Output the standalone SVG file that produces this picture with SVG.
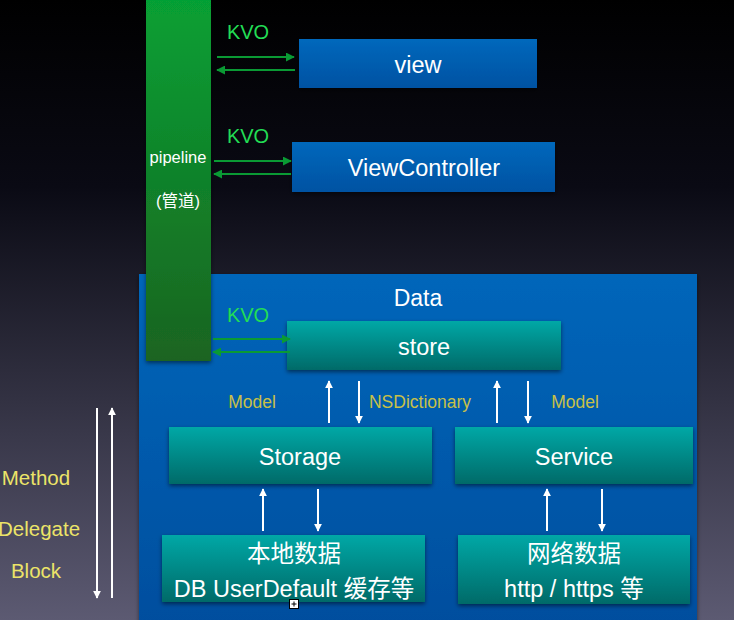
<svg xmlns="http://www.w3.org/2000/svg" width="734" height="620" viewBox="0 0 734 620">
<defs>
<linearGradient id="bg" x1="0" y1="0" x2="0" y2="1">
<stop offset="0" stop-color="#000000"/>
<stop offset="0.3" stop-color="#0a0a14"/>
<stop offset="1" stop-color="#5c5a72"/>
</linearGradient>
<linearGradient id="green" x1="0" y1="0" x2="0" y2="1">
<stop offset="0" stop-color="#06a034"/>
<stop offset="1" stop-color="#1b6420"/>
</linearGradient>
<linearGradient id="blue" x1="0" y1="0" x2="0" y2="1">
<stop offset="0" stop-color="#0068bc"/>
<stop offset="1" stop-color="#0052a2"/>
</linearGradient>
<linearGradient id="data" x1="0" y1="0" x2="0" y2="1">
<stop offset="0" stop-color="#0066ba"/>
<stop offset="1" stop-color="#004e9e"/>
</linearGradient>
<linearGradient id="teal" x1="0" y1="0" x2="0" y2="1">
<stop offset="0" stop-color="#00a8a6"/>
<stop offset="1" stop-color="#006a68"/>
</linearGradient>
<filter id="sh" x="-10%" y="-20%" width="120%" height="150%">
<feDropShadow dx="0" dy="2" stdDeviation="2" flood-color="#000" flood-opacity="0.5"/>
</filter>
<marker id="ag" viewBox="0 0 10 10" refX="9" refY="5" markerWidth="9" markerHeight="9" orient="auto" markerUnits="userSpaceOnUse">
<path d="M0,0 L10,5 L0,10 z" fill="#0a9a34"/>
</marker>
<marker id="aw" viewBox="0 0 10 10" refX="9" refY="5" markerWidth="8" markerHeight="8" orient="auto" markerUnits="userSpaceOnUse">
<path d="M0,0 L10,5 L0,10 z" fill="#ffffff"/>
</marker>
<style>
.t{font-family:"Liberation Sans",Arial,"Noto Sans CJK SC",sans-serif;fill:#ffffff;text-anchor:middle;}
.big{font-size:23.5px;}
.kvo{font-family:"Liberation Sans",Arial,sans-serif;font-size:20px;fill:#22dd55;text-anchor:middle;}
.lab{font-family:"Liberation Sans",Arial,sans-serif;font-size:17.5px;fill:#c8c048;text-anchor:middle;}
.side{font-family:"Liberation Sans",Arial,sans-serif;font-size:20.5px;fill:#ece468;text-anchor:middle;}
.g{stroke:#0a9a34;stroke-width:2;fill:none;}
.w{stroke:#ffffff;stroke-width:2;fill:none;}
</style>
</defs>
<rect x="0" y="0" width="734" height="620" fill="url(#bg)"/>

<g id="data-group">
<rect x="139" y="274" width="558" height="350" fill="url(#data)" filter="url(#sh)"/>
<text class="t" x="418" y="306" font-size="23">Data</text>
</g>

<g id="pipeline">
<rect x="146" y="-2" width="65" height="363" fill="url(#green)" filter="url(#sh)"/>
<text class="t" x="178" y="163" font-size="16.5">pipeline</text>
<text class="t" x="178" y="207" font-size="16.5">(管道)</text>
</g>

<g id="view">
<rect x="299" y="39" width="238" height="49" fill="url(#blue)" filter="url(#sh)"/>
<text class="t big" x="418" y="73">view</text>
</g>

<g id="viewcontroller">
<rect x="292" y="142" width="263" height="50" fill="url(#blue)" filter="url(#sh)"/>
<text class="t big" x="424" y="176">ViewController</text>
</g>

<g id="store">
<rect x="287" y="321" width="274" height="49" fill="url(#teal)" filter="url(#sh)"/>
<text class="t big" x="424" y="355">store</text>
</g>

<g id="storage">
<rect x="169" y="427" width="263" height="57" fill="url(#teal)" filter="url(#sh)"/>
<text class="t big" x="300" y="465">Storage</text>
</g>

<g id="service">
<rect x="455" y="427" width="238" height="57" fill="url(#teal)" filter="url(#sh)"/>
<text class="t big" x="574" y="465">Service</text>
</g>

<g id="local">
<rect x="162" y="535" width="263" height="67" fill="url(#teal)" filter="url(#sh)"/>
<text class="t big" x="294" y="562">本地数据</text>
<text class="t big" x="294" y="597">DB UserDefault 缓存等</text>
</g>

<g id="network">
<rect x="458" y="535" width="232" height="69" fill="url(#teal)" filter="url(#sh)"/>
<text class="t big" x="574" y="562">网络数据</text>
<text class="t big" x="574" y="597">http / https 等</text>
</g>

<g id="connectors">
<line class="g" x1="217" y1="57" x2="294" y2="57" marker-end="url(#ag)"/>
<line class="g" x1="295" y1="70" x2="217" y2="70" marker-end="url(#ag)"/>
<line class="g" x1="214" y1="161" x2="291" y2="161" marker-end="url(#ag)"/>
<line class="g" x1="291" y1="174" x2="214" y2="174" marker-end="url(#ag)"/>
<line class="g" x1="213" y1="339" x2="290" y2="339" marker-end="url(#ag)"/>
<line class="g" x1="290" y1="352" x2="213" y2="352" marker-end="url(#ag)"/>

<line class="w" x1="329" y1="423" x2="329" y2="381" marker-end="url(#aw)"/>
<line class="w" x1="359" y1="381" x2="359" y2="423" marker-end="url(#aw)"/>
<line class="w" x1="497" y1="423" x2="497" y2="381" marker-end="url(#aw)"/>
<line class="w" x1="528" y1="381" x2="528" y2="423" marker-end="url(#aw)"/>
<line class="w" x1="263" y1="531" x2="263" y2="489" marker-end="url(#aw)"/>
<line class="w" x1="318" y1="489" x2="318" y2="531" marker-end="url(#aw)"/>
<line class="w" x1="547" y1="531" x2="547" y2="489" marker-end="url(#aw)"/>
<line class="w" x1="602" y1="489" x2="602" y2="531" marker-end="url(#aw)"/>
<line class="w" x1="97" y1="408" x2="97" y2="598" marker-end="url(#aw)"/>
<line class="w" x1="112" y1="598" x2="112" y2="408" marker-end="url(#aw)"/>

<text class="kvo" x="248" y="39">KVO</text>
<text class="kvo" x="248" y="143">KVO</text>
<text class="kvo" x="248" y="322">KVO</text>
<text class="lab" x="252" y="408">Model</text>
<text class="lab" x="420" y="408">NSDictionary</text>
<text class="lab" x="575" y="408">Model</text>
<text class="side" x="36" y="485">Method</text>
<text class="side" x="39" y="536">Delegate</text>
<text class="side" x="36" y="578">Block</text>
</g>

<g id="cursor">
<rect x="289.5" y="599.5" width="9" height="9" fill="#ffffff" stroke="#000000" stroke-width="1"/>
<path d="M294,601.5 V606.5 M291.5,604 H296.5" stroke="#000000" stroke-width="1"/>
</g>
</svg>
